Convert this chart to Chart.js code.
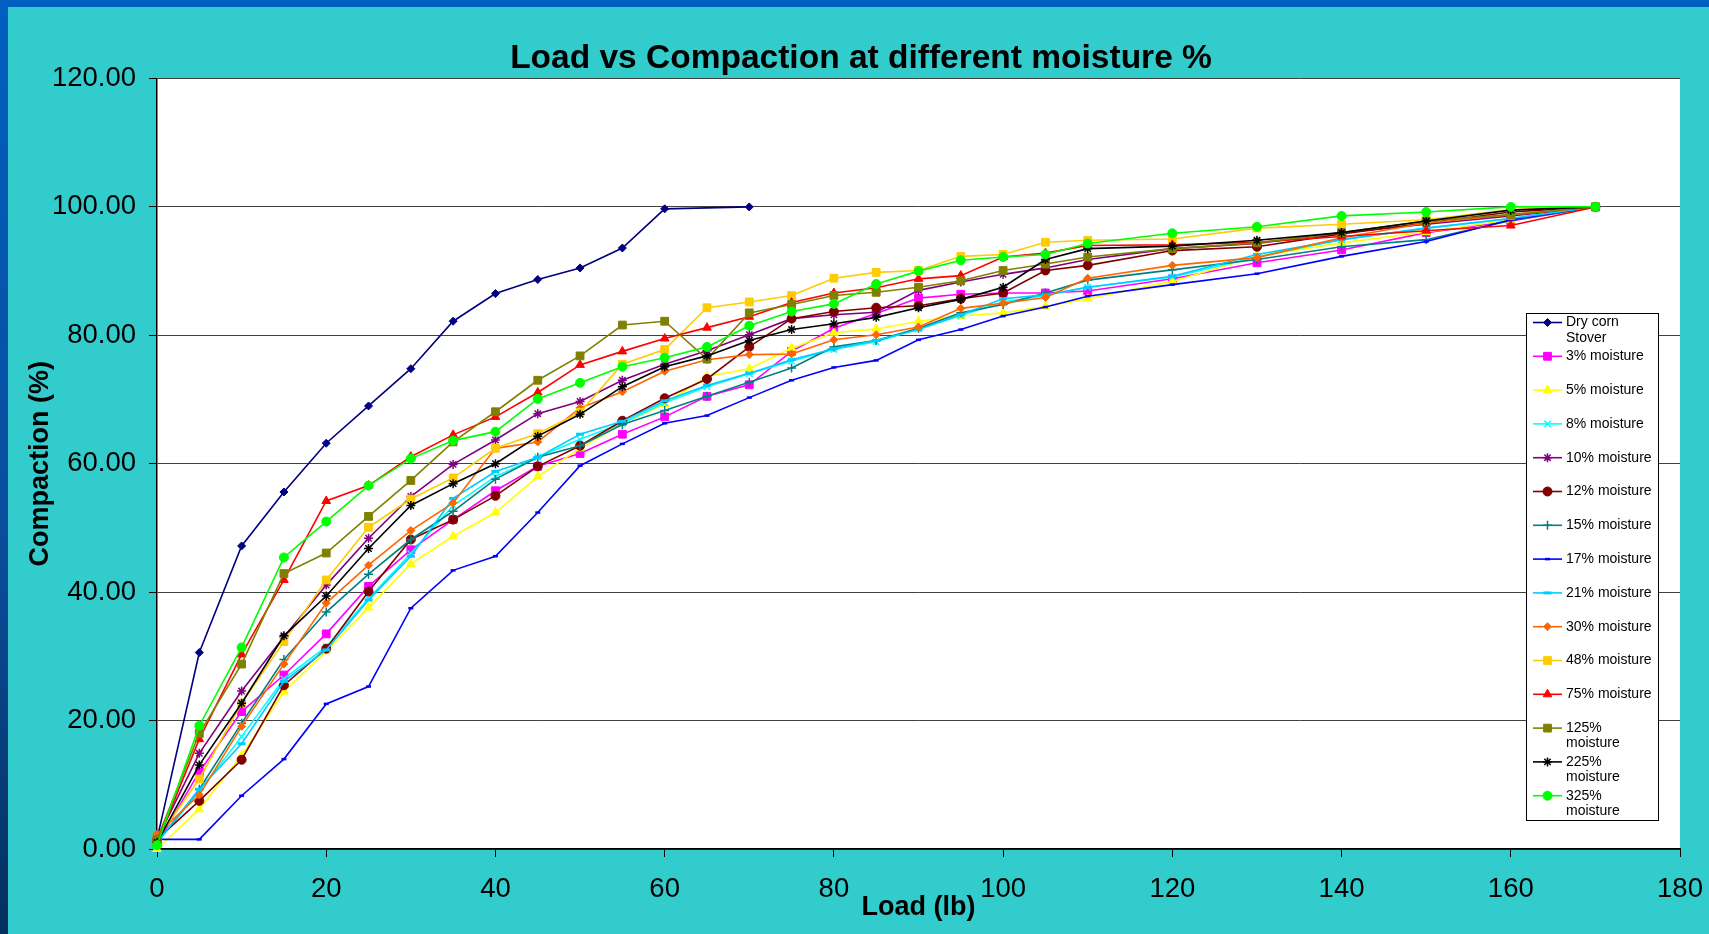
<!DOCTYPE html>
<html lang="en">
<head>
  <meta charset="UTF-8">
  <title>Load vs Compaction</title>
  <style>
    body {
      margin: 0;
      padding: 0;
      background-color: #33cccc;
      font-family: Arial, "Liberation Sans", sans-serif;
    }
    .wrap {
      position: relative;
      width: 1709px;
      height: 934px;
      overflow: hidden;
      background-color: #33cccc; /* slide teal */
    }
    .band-top {
      position: absolute;
      left: 0; top: 0;
      width: 1709px; height: 7px;
      background-color: #0060c0;
    }
    .band-left {
      position: absolute;
      left: 0; top: 0;
      width: 8px; height: 934px;
      background: linear-gradient(#0060c0, #0a4c9a 60%, #03305e);
    }
    canvas {
      position: absolute;
      left: 0; top: 0;
    }
  </style>
</head>
<body>
  <div class="wrap">
    <div class="band-top"></div>
    <div class="band-left"></div>
    <canvas id="chart" width="1709" height="934"></canvas>
  </div>

  <script src="https://cdn.jsdelivr.net/npm/chart.js"></script>
  <script>
    const TITLE = 'Load vs Compaction at different moisture %';

    // load values (lb) shared by all moisture series
    const LOAD = [0, 5, 10, 15, 20, 25, 30, 35, 40, 45, 50, 55, 60, 65, 70, 75, 80, 85, 90, 95, 100, 105, 110, 120, 130, 140, 150, 160, 170];
    // dry stover was only run to 70 lb
    const DRY_LOAD = [0, 5, 10, 15, 20, 25, 30, 35, 40, 45, 50, 55, 60, 70];

    const DRY    = [1.5, 30.6, 47.2, 55.6, 63.2, 69.0, 74.8, 82.2, 86.5, 88.7, 90.5, 93.6, 99.7, 100.0];
    const M3     = [0.8, 12.0, 21.4, 27.1, 33.5, 40.9, 46.6, 51.3, 55.8, 59.6, 61.6, 64.6, 67.3, 70.5, 72.3, 77.5, 81.1, 83.4, 85.8, 86.4, 86.6, 86.6, 86.9, 88.8, 91.3, 93.3, 96.0, 97.8, 100];
    const M5     = [0.0, 6.2, 14.6, 24.5, 30.8, 37.6, 44.4, 48.7, 52.4, 58.0, 62.4, 66.3, 69.3, 73.6, 74.8, 78.0, 80.4, 81.0, 82.2, 83.0, 83.5, 84.5, 85.7, 88.4, 92.3, 94.4, 96.1, 98.0, 100];
    const M8     = [1.0, 9.0, 17.5, 26.5, 31.5, 39.0, 46.0, 53.5, 58.0, 61.0, 63.8, 66.3, 69.5, 72.0, 74.0, 76.0, 77.8, 79.0, 81.0, 83.1, 85.2, 86.2, 87.5, 89.1, 92.2, 94.9, 96.7, 98.2, 100];
    const M10    = [1.5, 14.9, 24.6, 33.0, 41.1, 48.4, 54.9, 59.9, 63.7, 67.8, 69.7, 73.0, 75.5, 77.6, 80.1, 82.6, 83.2, 83.6, 87.0, 88.3, 89.5, 90.5, 91.8, 93.5, 94.3, 96.0, 97.3, 98.6, 100];
    const M12    = [1.5, 7.5, 13.9, 25.5, 31.2, 40.1, 48.2, 51.3, 55.0, 59.6, 62.8, 66.7, 70.2, 73.2, 78.2, 82.6, 83.7, 84.3, 84.6, 85.7, 86.6, 90.1, 90.9, 93.2, 93.8, 95.8, 97.5, 99.2, 100];
    const M15    = [1.0, 9.3, 19.6, 29.5, 36.9, 42.8, 48.2, 52.6, 57.6, 61.0, 62.8, 66.1, 68.3, 70.5, 72.7, 74.9, 78.2, 79.2, 81.1, 83.5, 84.8, 86.6, 88.6, 90.2, 91.8, 93.8, 94.9, 97.9, 100];
    const M17    = [1.5, 1.5, 8.3, 14.0, 22.6, 25.3, 37.5, 43.4, 45.6, 52.4, 59.7, 63.1, 66.3, 67.5, 70.3, 73.0, 75.0, 76.1, 79.3, 80.9, 83.0, 84.4, 86.1, 87.9, 89.6, 92.3, 94.6, 98.0, 100];
    const M21    = [1.0, 9.3, 16.4, 26.1, 31.0, 38.8, 45.6, 54.6, 58.8, 61.0, 64.6, 66.6, 69.8, 72.2, 74.1, 76.2, 77.9, 79.2, 80.9, 83.2, 85.7, 86.3, 87.5, 89.2, 92.6, 94.9, 96.7, 98.2, 100];
    const M30    = [2.3, 8.4, 19.1, 28.8, 38.3, 44.2, 49.6, 53.9, 62.4, 63.4, 68.7, 71.2, 74.4, 76.2, 77.0, 77.1, 79.3, 80.1, 81.3, 84.2, 85.0, 85.9, 88.9, 90.9, 92.1, 95.2, 97.5, 98.8, 100];
    const M48    = [1.5, 10.9, 22.7, 32.3, 41.9, 50.1, 54.5, 57.8, 62.4, 64.7, 68.0, 75.5, 77.8, 84.3, 85.2, 86.2, 88.9, 89.8, 90.1, 92.3, 92.6, 94.5, 94.8, 95.0, 96.7, 97.3, 98.0, 99.6, 100];
    const M75    = [1.0, 17.1, 30.3, 41.9, 54.2, 56.6, 61.1, 64.5, 67.3, 71.1, 75.4, 77.5, 79.5, 81.2, 82.9, 85.1, 86.6, 87.4, 88.8, 89.3, 92.2, 92.8, 94.0, 94.1, 94.5, 95.4, 96.3, 97.1, 100];
    const M125   = [1.5, 18.0, 28.8, 42.9, 46.1, 51.8, 57.4, 63.4, 68.1, 73.0, 76.8, 81.6, 82.2, 76.3, 83.5, 84.8, 86.2, 86.7, 87.5, 88.5, 90.1, 91.1, 92.2, 93.5, 94.4, 96.0, 97.8, 98.8, 100];
    const M225   = [1.0, 13.1, 22.7, 33.2, 39.4, 46.8, 53.5, 56.9, 60.0, 64.3, 67.7, 72.0, 75.1, 76.8, 79.2, 80.9, 81.8, 82.8, 84.3, 85.6, 87.5, 91.8, 93.5, 93.9, 94.8, 96.0, 97.8, 99.5, 100];
    const M325   = [0.6, 19.2, 31.4, 45.4, 51.0, 56.6, 60.8, 63.6, 65.0, 70.1, 72.6, 75.1, 76.5, 78.2, 81.5, 83.7, 84.9, 88.0, 90.0, 91.7, 92.2, 92.6, 94.3, 95.9, 96.9, 98.6, 99.2, 100.0, 100];

    // legend text, split the way the legend wraps it
    const NAMES = [
      ['Dry corn', 'Stover'], ['3% moisture'], ['5% moisture'], ['8% moisture'],
      ['10% moisture'], ['12% moisture'], ['15% moisture'], ['17% moisture'],
      ['21% moisture'], ['30% moisture'], ['48% moisture'], ['75% moisture'],
      ['125%', 'moisture'], ['225%', 'moisture'], ['325%', 'moisture']
    ];
    const VALUES = [DRY, M3, M5, M8, M10, M12, M15, M17, M21, M30, M48, M75, M125, M225, M325];

    const COLORS = ['#000080', '#ff00ff', '#ffff00', '#00ffff', '#800080', '#800000', '#008080',
                    '#0000ff', '#00ccff', '#ff6600', '#ffcc00', '#ff0000', '#808000', '#000000', '#00ff00'];
    const MARKERS = ['rectRot', 'rect', 'triangle', 'crossRot', 'star', 'circle', 'cross',
                     'line', 'line', 'rectRot', 'rect', 'triangle', 'rect', 'star', 'circle'];
    const RADII = [4, 5.5, 5, 4.5, 4.5, 4.5, 4.5, 2.5, 4, 4, 5.5, 5, 5.5, 4.5, 4.5];
    const MARK_W = [1, 1, 1, 1.5, 1.5, 1, 1.5, 2.5, 3, 1, 1, 1, 1, 1.5, 1];

    const FONT = 'Arial, "Liberation Sans", sans-serif';
    Chart.defaults.font.family = FONT;
    Chart.defaults.color = '#000';

    const datasets = VALUES.map((vals, i) => {
      const xs = i === 0 ? DRY_LOAD : LOAD;
      return {
        label: NAMES[i].join(' '),
        data: vals.map((v, j) => ({ x: xs[j], y: v })),
        borderColor: COLORS[i],
        backgroundColor: COLORS[i],
        pointBackgroundColor: COLORS[i],
        pointBorderColor: COLORS[i],
        pointStyle: MARKERS[i],
        pointRadius: RADII[i],
        pointBorderWidth: MARK_W[i],
        borderWidth: 1.6,
        fill: false,
        tension: 0,
        clip: false,
        order: -i // later series sit on top, like the spreadsheet
      };
    });

    // white plot area behind the grid
    const plotBackground = {
      id: 'plotBackground',
      beforeDraw(chart) {
        const a = chart.chartArea;
        const ctx = chart.ctx;
        ctx.save();
        ctx.fillStyle = '#ffffff';
        ctx.fillRect(a.left, a.top, a.right - a.left, a.bottom - a.top);
        ctx.restore();
      }
    };

    // slide title, centred over the slide rather than the canvas
    const slideTitle = {
      id: 'slideTitle',
      afterDraw(chart) {
        const ctx = chart.ctx;
        ctx.save();
        ctx.font = 'bold 33.5px ' + FONT;
        ctx.fillStyle = '#000';
        ctx.textAlign = 'center';
        ctx.textBaseline = 'middle';
        ctx.fillText(TITLE, 861, 58.5);
        ctx.restore();
      }
    };

    // boxed legend sitting inside the plot on the right
    const insetLegend = {
      id: 'insetLegend',
      afterDraw(chart) {
        const ctx = chart.ctx;
        const box = { x: 1526, y: 313, w: 132, h: 507 };
        ctx.save();
        ctx.fillStyle = '#ffffff';
        ctx.fillRect(box.x, box.y, box.w, box.h);
        ctx.strokeStyle = '#000';
        ctx.lineWidth = 1;
        ctx.strokeRect(box.x + 0.5, box.y + 0.5, box.w, box.h);

        ctx.font = '14px ' + FONT;
        ctx.textBaseline = 'middle';
        ctx.textAlign = 'left';
        chart.data.datasets.forEach((ds, i) => {
          const y = 322.5 + 33.8 * i;
          ctx.strokeStyle = ds.borderColor;
          ctx.lineWidth = 1.6;
          ctx.beginPath();
          ctx.moveTo(1533, y);
          ctx.lineTo(1562, y);
          ctx.stroke();

          ctx.fillStyle = ds.pointBackgroundColor;
          ctx.strokeStyle = ds.pointBorderColor;
          ctx.lineWidth = ds.pointBorderWidth;
          Chart.helpers.drawPoint(ctx, {
            pointStyle: ds.pointStyle,
            rotation: 0,
            radius: ds.pointRadius,
            borderWidth: ds.pointBorderWidth
          }, 1547.5, y);

          ctx.fillStyle = '#000';
          NAMES[i].forEach((line, k) => ctx.fillText(line, 1566, y + k * 15.5));
        });
        ctx.restore();
      }
    };

    new Chart(document.getElementById('chart'), {
      type: 'line',
      data: { datasets: datasets },
      options: {
        responsive: false,
        animation: false,
        events: [],
        layout: { padding: { left: 0, right: 29, top: 78.5, bottom: 0 } },
        plugins: {
          legend: { display: false },
          tooltip: { enabled: false },
          title: { display: false }
        },
        scales: {
          x: {
            type: 'linear',
            min: 0,
            max: 180,
            ticks: { stepSize: 20, color: '#000', font: { size: 27.5 }, padding: 15.5, maxRotation: 0 },
            grid: { drawOnChartArea: false, tickLength: 8, tickColor: '#000' },
            border: { color: '#000', width: 1.5 },
            title: {
              display: true,
              text: 'Load (lb)',
              color: '#000',
              font: { size: 27, weight: 'bold' },
              padding: { top: 0, bottom: 10 }
            },
            afterFit(scale) {
              scale.height = 85;
              // the last label may hang past the plot, as it does on the slide
              scale.paddingLeft = 0;
              scale.paddingRight = 0;
            }
          },
          y: {
            min: 0,
            max: 120,
            ticks: {
              stepSize: 20,
              color: '#000',
              font: { size: 27.5 },
              padding: 13,
              callback: v => v.toFixed(2)
            },
            grid: { color: '#404040', tickLength: 8, tickColor: '#000' },
            border: { color: '#000', width: 1.5 },
            title: {
              display: true,
              text: 'Compaction (%)',
              color: '#000',
              font: { size: 27, weight: 'bold' },
              padding: { top: 24, bottom: 0 }
            },
            afterFit(scale) { scale.width = 157; }
          }
        }
      },
      plugins: [plotBackground, slideTitle, insetLegend]
    });
  </script>
</body>
</html>
